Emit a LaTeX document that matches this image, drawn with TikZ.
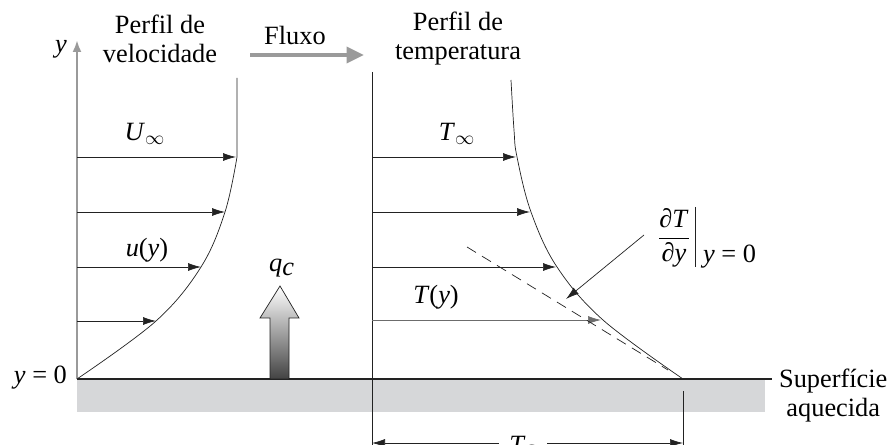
\documentclass[tikz,border=0pt]{standalone}
\usepackage{fontspec}
\setmainfont{Liberation Serif}
\usepackage{tikz}
\usetikzlibrary{arrows.meta,positioning,calc}
\definecolor{flink}{HTML}{222222}
\definecolor{flgrey}{HTML}{9A9A9A}
\definecolor{flplate}{HTML}{D6D7D9}
\newcommand{\vi}[1]{\textit{#1}}
\tikzset{
  txt/.style={font=\fontsize{15}{16.5}\selectfont, inner sep=1pt, align=center},
  vec/.style={-{Latex[length=2.6mm,width=1.6mm]}, thin, color=flink},
  vecg/.style={-{Latex[length=2.6mm,width=1.6mm]}, thin, color=flgrey!70!black},
  prof/.style={thin, color=flink},
  axis/.style={-{Latex[length=2.4mm,width=1.8mm]}, line width=1.3pt, color=flgrey},
  flow/.style={-{Triangle[length=3.5mm,width=3.2mm]}, line width=2pt, color=flgrey},
  tang/.style={dashed, dash pattern=on 6pt off 4pt, thin, color=flink},
  dim/.style={{Latex[length=2.6mm,width=1.6mm]}-{Latex[length=2.6mm,width=1.6mm]}, thin, color=flink},
}
\begin{document}
\begin{tikzpicture}[x=0.02cm, y=-0.02cm]
  \useasboundingbox (0,0) rectangle (889,445);
  % heated plate
  \fill[flplate] (77,379) rectangle (765,412);
  \coordinate (s0) at (77,379);
  \coordinate (s1) at (772,379);
  \draw[prof, semithick] (s0) -- (s1);
  \node[txt, anchor=west] (plate) at (777,396) {Superfície\\aquecida};
  \node[txt, anchor=east] (yzero) at (69,378) {\vi{y} = 0};

  % y axis
  \coordinate (ytop) at (77,40);
  \draw[axis] (s0) -- (ytop);
  \node[txt, anchor=east] (ylab) at (69,49) {\vi{y}};

  % velocity profile
  \node[txt] (tvel) at (160,39) {Perfil de\\velocidade};
  \draw[prof] (237,78) -- (237,157) plot[smooth, tension=0.6] coordinates {(237,157) (225,212) (201,267) (156,321) (77,379)};
  \foreach \i/\y/\x in {1/157/236,2/212/225,3/267/201,4/321/156} {
    \coordinate (w\i) at (77,\y);
    \coordinate (v\i) at (\x,\y);
    \draw[vec] (w\i) -- (v\i);
  }
  \node[txt] (uinf) at (145,134) {\vi{U}$_\infty$};
  \node[txt] (uy) at (147,250) {\vi{u}(\vi{y})};

  % flow direction
  \node[txt] (fluxo) at (295,35) {Fluxo};
  \coordinate (f0) at (250,55);
  \coordinate (f1) at (364,55);
  \draw[flow] (f0) -- (f1);

  % heat flux
  \shade[top color=white, bottom color=flink!85, draw=flink, thin]
    (270,379) -- (270,318) -- (260,318) -- (280,286) -- (299,318) -- (289,318) -- (289,379) -- cycle;
  \node[txt] (qc) at (282,268) {\vi{q}$_{\textit{c}}$};

  % temperature profile
  \node[txt] (ttemp) at (458,39) {Perfil de\\temperatura};
  \coordinate (m0) at (372,72);
  \coordinate (m1) at (372,445);
  \draw[prof] (m0) -- (m1);
  \draw[prof] plot[smooth, tension=0.6] coordinates {(511,80) (514,130) (517,157) (531,212) (557,267) (603,320) (683,379)};
  \foreach \i/\y/\x in {1/157/516,2/212/530,3/267/556} {
    \coordinate (a\i) at (372,\y);
    \coordinate (b\i) at (\x,\y);
    \draw[vec] (a\i) -- (b\i);
  }
  \coordinate (a4) at (372,320);
  \coordinate (b4) at (601,320);
  \draw[vecg] (a4) -- (b4);
  \node[txt] (tinf) at (457,134) {\vi{T}$_\infty$};
  \node[txt] (ty) at (436,297) {\vi{T}(\vi{y})};

  % tangent at the wall
  \coordinate (g0) at (467,247);
  \coordinate (g1) at (668,370);
  \draw[tang] (g0) -- (g1);
  \node[txt] (dtdy) at (674,238) {$\displaystyle\frac{\mbox{∂\vi{T}}}{\mbox{∂\vi{y}}}$};
  \coordinate (bar0) at (695,207);
  \coordinate (bar1) at (695,267);
  \draw[prof] (bar0) -- (bar1);
  \node[txt, anchor=west] (dtdy0) at (701,257) {\vi{y} = 0};
  \coordinate (p0) at (644,235);
  \coordinate (p1) at (566,299);
  \draw[vec] (p0) -- (p1);

  % wall temperature
  \coordinate (e0) at (683,391);
  \coordinate (e1) at (683,445);
  \draw[prof] (e0) -- (e1);
  \coordinate (d0) at (372,443);
  \coordinate (d1) at (683,443);
  \draw[dim] (d0) -- (d1);
  \node[txt, fill=white, inner xsep=6pt, anchor=north] (ts) at (523,434) {\vi{T}$_{\textit{s}}$};
\end{tikzpicture}
\end{document}
